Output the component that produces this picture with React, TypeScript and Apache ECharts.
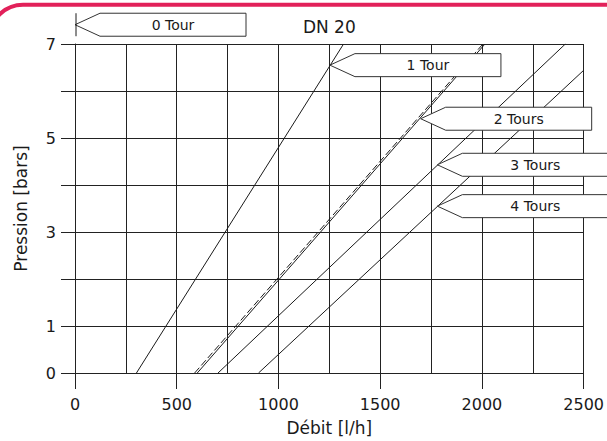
import React, { useEffect, useRef } from "react";
import * as echarts from "echarts";

// Data (flow l/h, pressure bars)
const line1Tour: number[][] = [[302, 0], [1320, 7]];
const line2ToursDashed: number[][] = [[588, 0], [2005, 7]];
const line2Tours: number[][] = [[601, 0], [2015, 7]];
const line3Tours: number[][] = [[703, 0], [2410, 7]];
const line4Tours: number[][] = [[902, 0], [2500, 6.44]];

const yTickLabels = [0, 1, 3, 5, 7];
const annotLabels = ["0 Tour", "1 Tour", "2 Tours", "3 Tours", "4 Tours"];
const annotX = [0, 1253, 1699, 1781, 1781];
const annotY = [7.41, 6.55, 5.41, 4.43, 3.55];

const FONT = "DejaVu Sans";
const INK = "#1a1a1a";

export default function App() {
  const ref = useRef<HTMLDivElement>(null);
  useEffect(() => {
    if (!ref.current) return;
    const chart = echarts.init(ref.current, null, { renderer: "svg" });
    const lineStyle = { color: INK, width: 1 };
    const option: any = {
      animation: false,
      backgroundColor: "#fff",
      textStyle: { fontFamily: FONT },
      grid: { left: 75, right: 22, top: 44, bottom: 68 },
      xAxis: [
        {
          type: "value",
          min: 0,
          max: 2500,
          interval: 250,
          axisLine: { show: false },
          axisTick: { show: false },
          axisLabel: { show: false },
          splitLine: { show: true, lineStyle: { color: "#222", width: 1 } },
        },
        {
          type: "value",
          min: 0,
          max: 2500,
          interval: 500,
          position: "bottom",
          axisLine: { show: false },
          axisTick: { show: true, length: 16, lineStyle: { color: "#222", width: 1 } },
          axisLabel: {
            show: true,
            margin: 23,
            fontSize: 16,
            color: INK,
            fontFamily: FONT,
            formatter: (v: number) => String(v),
          },
          splitLine: { show: false },
          name: "Débit [l/h]",
          nameLocation: "middle",
          nameGap: 46,
          nameTextStyle: { fontSize: 17, color: INK, fontFamily: FONT },
        },
      ],
      yAxis: {
        type: "value",
        min: 0,
        max: 7,
        interval: 1,
        axisLine: { show: true, lineStyle: { color: "#222", width: 1 } },
        axisTick: { show: true, length: 14, lineStyle: { color: "#222", width: 1 } },
        axisLabel: {
          margin: 19,
          fontSize: 16,
          color: INK,
          fontFamily: FONT,
          formatter: (v: number) => (yTickLabels.indexOf(v) >= 0 ? String(v) : ""),
        },
        splitLine: { show: true, lineStyle: { color: "#222", width: 1 } },
        name: "Pression [bars]",
        nameLocation: "middle",
        nameGap: 46,
        nameTextStyle: { fontSize: 17, color: INK, fontFamily: FONT },
      },
      series: [
        { type: "line", data: line1Tour, symbol: "none", lineStyle, z: 5 },
        {
          type: "line",
          data: line2ToursDashed,
          symbol: "none",
          lineStyle: { color: INK, width: 1, type: [7, 3] },
          z: 5,
        },
        { type: "line", data: line2Tours, symbol: "none", lineStyle, z: 5 },
        { type: "line", data: line3Tours, symbol: "none", lineStyle, z: 5 },
        { type: "line", data: line4Tours, symbol: "none", lineStyle, z: 5 },
      ],
    };
    chart.setOption(option);

    const graphics: any[] = [];
    // red top band with rounded corner
    graphics.push({
      type: "rect",
      silent: true,
      shape: { x: -10, y: 4.7, width: 800, height: 800, r: 33 },
      style: { fill: "none", stroke: "#E2215A", lineWidth: 4 },
      z: 100,
    });
    const c0 = chart.convertToPixel({ gridIndex: 0 }, [0, 7]) as number[];
    const c1 = chart.convertToPixel({ gridIndex: 0 }, [2500, 7]) as number[];
    graphics.push({
      type: "text",
      silent: true,
      style: {
        text: "DN 20",
        x: (c0[0] + c1[0]) / 2,
        y: 27,
        align: "center",
        verticalAlign: "middle",
        fontSize: 17,
        fontFamily: FONT,
        fill: INK,
      },
      z: 100,
    });
    const dx = 25;
    const hh = 11.5;
    const w = 146;
    annotLabels.forEach((lbl, i) => {
      const p = chart.convertToPixel({ gridIndex: 0 }, [annotX[i], annotY[i]]) as number[];
      const tx = p[0];
      const ty = p[1];
      graphics.push({
        type: "polygon",
        silent: true,
        shape: {
          points: [
            [tx, ty],
            [tx + dx, ty - hh],
            [tx + dx + w, ty - hh],
            [tx + dx + w, ty + hh],
            [tx + dx, ty + hh],
          ],
        },
        style: { fill: "#fff", stroke: "#333", lineWidth: 1 },
        z: 100,
      });
      graphics.push({
        type: "text",
        silent: true,
        style: {
          text: lbl,
          x: tx + dx + w / 2,
          y: ty,
          align: "center",
          verticalAlign: "middle",
          fontSize: 14,
          fontFamily: FONT,
          fill: INK,
        },
        z: 101,
      });
      if (i === 0) {
        graphics.push({
          type: "line",
          silent: true,
          shape: { x1: tx + 1, y1: ty - hh, x2: tx + 1, y2: ty + hh },
          style: { stroke: INK, lineWidth: 1 },
          z: 101,
        });
      }
    });
    chart.setOption({ graphic: graphics });

    return () => chart.dispose();
  }, []);
  return (
    <div
      ref={ref}
      style={{ position: "fixed", left: 0, top: 0, width: 607, height: 441, background: "#fff" }}
    />
  );
}
